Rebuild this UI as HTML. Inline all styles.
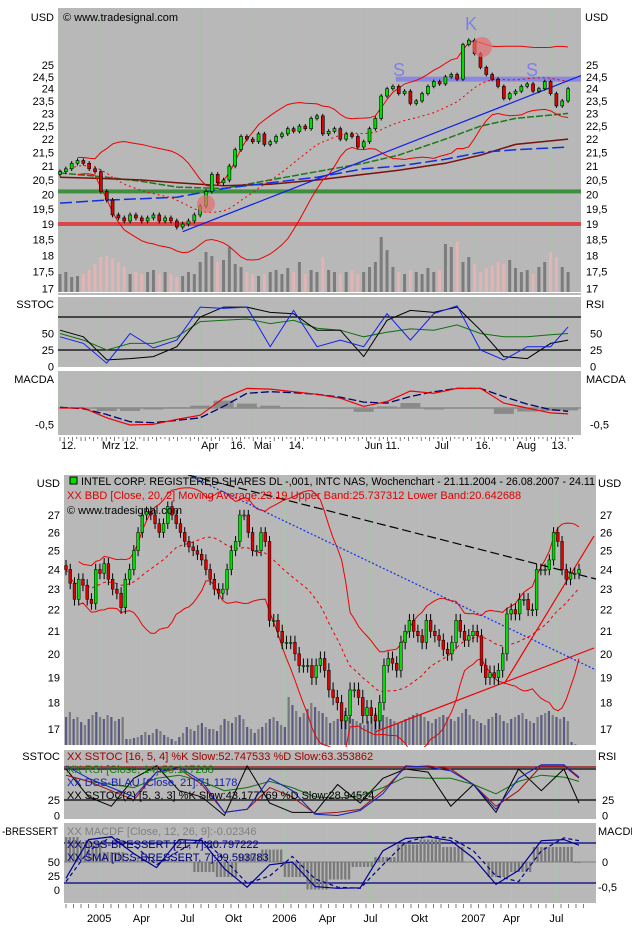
<!DOCTYPE html>
<html><head><meta charset="utf-8"><style>
html,body{margin:0;padding:0;background:#fff}
svg{display:block}
text{font-family:"Liberation Sans",sans-serif;font-size:11px}
</style></head><body>
<svg id="c" width="632" height="928" viewBox="0 0 632 928" xmlns="http://www.w3.org/2000/svg">
<defs>
<clipPath id="cpT"><rect x="58" y="8" width="523" height="285"/></clipPath>
<clipPath id="cpTS"><rect x="58" y="297" width="523" height="70"/></clipPath>
<clipPath id="cpTM"><rect x="58" y="371" width="523" height="64"/></clipPath>
<clipPath id="cpB"><rect x="64" y="475" width="532" height="272"/></clipPath>
<clipPath id="cpBS"><rect x="64" y="750" width="532" height="69"/></clipPath>
<clipPath id="cpBM"><rect x="64" y="823" width="532" height="80"/></clipPath>
</defs>
<g id="layer"></g>
</svg>
<script>
// ---------- TOP (daily) DATA ----------
const topClose=[20.8,20.9,21.1,21.2,21.1,20.9,20.8,20.1,19.8,19.3,
19.2,19.1,19.3,19.2,19.1,19.2,19.3,19.1,19.2,19.1,
18.9,19.0,19.1,19.3,19.6,20.1,20.7,20.4,20.5,21.0,
21.6,22.1,22.0,21.9,22.2,21.8,21.9,22.1,22.2,22.4,
22.3,22.5,22.4,22.8,22.9,22.2,22.3,22.4,22.0,22.2,
22.1,21.7,21.9,22.4,22.8,23.7,24.0,24.1,23.8,23.9,
23.4,23.5,23.8,24.1,24.3,24.2,24.5,24.6,24.4,25.9,
26.1,25.5,24.9,24.6,24.4,24.1,23.6,23.8,23.9,24.1,
24.2,23.9,24.0,24.3,23.8,23.3,23.5,24.0];
const topVolume=[18,20,15,16,18,22,28,35,36,34,30,25,18,20,18,20,22,18,20,18,15,16,20,18,30,40,36,30,32,45,28,25,20,18,16,18,20,22,18,24,20,30,18,22,20,35,22,20,18,20,22,18,20,25,30,55,42,25,20,18,22,20,18,24,20,22,48,45,50,30,35,28,20,24,26,30,28,32,24,20,22,18,25,30,40,35,25,20];
const topMaIdx=[0,8,14,20,28,36,44,52,58,66,72,78,87];
const topMaGreen=[20.75,20.6,20.45,20.25,20.2,20.5,20.8,21.1,21.4,22.0,22.5,22.8,23.0];
const topMaRed=[20.6,20.55,20.5,20.4,20.3,20.35,20.5,20.7,20.85,21.1,21.4,21.8,22.0];
const topMaBlue=[19.7,19.8,19.85,19.9,20.2,20.4,20.6,20.9,21.0,21.25,21.5,21.6,21.7];
const topPriceTicks=[25,24.5,24,23.5,23,22.5,22,21.5,21,20.5,20,19.5,19,18.5,18,17.5,17];
const topSampleIdx=[0,4,8,12,16,20,24,28,32,36,40,44,48,52,56,60,64,68,72,76,80,84,87];
const topStochBlue=[45,35,5,50,28,40,90,88,90,30,85,30,40,30,80,40,80,92,25,10,30,30,60];
const topStochBlack=[55,45,10,12,15,30,75,90,90,82,80,55,55,15,70,85,82,90,55,15,12,35,40];
const topRsiGreen=[50,40,25,35,35,45,68,70,72,65,70,58,55,45,52,57,55,63,50,45,45,48,50];
const topMacdRed=[0,0,-0.3,-0.52,-0.5,-0.35,-0.22,0.3,0.6,0.58,0.5,0.42,0.3,0.05,0.2,0.52,0.45,0.6,0.6,0.15,0,-0.15,-0.18];
const topMacdSig=[0.02,-0.02,-0.2,-0.42,-0.45,-0.38,-0.3,0.05,0.45,0.5,0.47,0.42,0.33,0.18,0.15,0.35,0.5,0.6,0.6,0.35,0.12,-0.05,-0.1];
const topDateLabels=["12.","Mrz 12.","Apr","16.","Mai","14.","Jun 11.","Jul","16.","Aug","13."];
const topDateIdx=[0,7,24,29,33,39,52,64,71,78,84];

// ---------- BOTTOM (weekly) DATA ----------
const botClose=[24,23.3,22.5,23.5,23.2,22.5,22.3,24,23.8,24.3,
23.5,23,22.8,22.1,23.5,24,25,26,27,27.2,
27,26.5,26,26.5,27.5,27,26.5,26,25.5,25.2,
25,24.8,24.5,24,23.5,23,22.8,23,24,25,
25.5,27,27,26,25,25,26,25.5,21.5,21.5,
21,20.5,20.5,20.5,20,19.5,19.5,19.5,19,19.5,
19.8,19.3,18.5,18.2,18,17.3,17.5,18.5,18.5,18.2,
17.5,17.8,17.5,17.3,18,19.5,19.8,19.6,19.3,20.5,
21,21.5,21,20.8,20.5,21.5,21,20.8,20.6,20.2,
20,20.5,21.5,21,20.6,20.8,21,20.8,19.5,19,
19.2,19,19.3,20,21.8,22,21.8,22.5,22.5,22,
22,24,24,24,24.5,26,25.5,24,23.5,23.8,
23.8,24];
const botVolume=[30,35,28,30,25,22,28,32,35,30,28,32,30,26,28,30,8,8,9,10,12,15,12,14,18,16,12,10,8,6,10,14,20,18,16,22,24,20,18,18,16,22,28,26,24,30,32,28,20,18,14,18,20,24,28,30,26,22,20,50,42,36,30,34,38,44,40,36,34,30,24,26,28,34,36,30,28,26,24,22,26,30,34,36,32,30,28,26,24,26,28,30,32,34,32,30,26,24,28,30,32,30,28,26,30,34,38,32,28,26,24,22,28,30,34,32,26,24,28,30,32,34,28,26,24,30,32,34,36,32,30,28,30,26,5,3,2];
const botPriceTicks=[27,26,25,24,23,22,21,20,19,18,17];
const botSampleIdx=[0,6,12,18,24,30,36,42,48,54,60,66,72,78,84,90,96,102,108,114,120,126,132,136];
const botSstocRed=[65,55,40,25,70,75,50,5,10,45,30,3,5,10,40,78,80,75,50,15,40,80,80,60];
const botDssBlue=[80,60,45,30,70,78,55,5,10,60,40,2,0,8,35,80,78,72,50,10,60,82,82,62];
const botRsiGreen=[65,55,50,45,60,65,55,40,45,55,45,30,28,32,45,62,60,60,50,35,55,65,62,55];
const botSstoc2Black=[75,30,15,60,80,40,30,0,80,20,5,5,50,20,60,75,70,15,50,5,75,40,75,20];
const botBressert=[21,90,95,65,40,90,88,38,5,45,50,6,3,4,70,92,95,88,57,10,35,88,90,80];
const botBressertSma=[15,70,95,80,45,70,92,55,12,25,60,20,5,3,45,85,96,93,70,25,15,70,93,88];
const botMacdf=[0.5,0.4,0.2,0.05,0.05,0.05,-0.2,-0.3,0.15,0.25,-0.3,-0.55,-0.35,-0.1,0.1,0.35,0.45,0.3,0,-0.3,-0.2,0.3,0.3,-0.02];
const botDateLabels=["2005","Apr","Jul","Okt","2006","Apr","Jul","Okt","2007","Apr","Jul"];
const botDateIdx=[8.8,20,32.2,44.4,57.9,69.3,80.7,93.7,108,118.1,130];

// ---------- helpers ----------
const NS="http://www.w3.org/2000/svg";
const layer=document.getElementById('layer');
function mk(tag,attrs,parent,txt){const e=document.createElementNS(NS,tag);for(const k in attrs)e.setAttribute(k,attrs[k]);if(txt!==undefined)e.textContent=txt;(parent||layer).appendChild(e);return e;}
function grp(clip){const g=document.createElementNS(NS,'g');if(clip)g.setAttribute('clip-path','url(#'+clip+')');layer.appendChild(g);return g;}
function bb(arr,period,k){const mid=[],up=[],lo=[];for(let i=0;i<arr.length;i++){const s=Math.max(0,i-period+1);const w=arr.slice(s,i+1);const m=w.reduce((a,b)=>a+b,0)/w.length;const sd=Math.sqrt(w.reduce((a,b)=>a+(b-m)*(b-m),0)/w.length);mid.push(m);up.push(m+k*sd);lo.push(m-k*sd);}return {mid,up,lo};}
function poly(xs,ys,style,parent,name){let d='';for(let i=0;i<xs.length;i++){if(isNaN(ys[i]))continue;d+=(d?'L':'M')+xs[i].toFixed(1)+' '+ys[i].toFixed(1);}const p=mk('path',Object.assign({d:d,fill:'none'},style),parent);


return p;}

// axis functions
const yT=p=>224-579*Math.log(p/19);
const xT=i=>60+i*5.84;
const yTS=v=>350-(v-25)*0.66;
const yTM=v=>408-v*32.6;
const yB=p=>729-462.6*Math.log(p/17);
const xB=i=>66+i*(513/(botClose.length-1));
const xBi=i=>66+i*(513/136);
const yBS=v=>800-(v-25)*0.62;
const yBM=v=>862-v*50;
const yBD=v=>890-v*0.56;

// ---------- panels ----------
const panels=[[58,8,523,287,'top-price-panel'],[58,297,523,70,'top-stoch-panel'],[58,371,523,64,'top-macd-panel'],[64,475,532,272,'bottom-price-panel'],[64,750,532,69,'bottom-stoch-panel'],[64,823,532,80,'bottom-bressert-panel']];
panels.forEach(p=>{const r=mk('rect',{x:p[0],y:p[1],width:p[2],height:p[3],fill:'#b8b8b8'});

});

// vertical grid
topDateIdx.forEach(i=>{[[8,295],[297,367],[371,435]].forEach(r=>mk('line',{x1:xT(i),x2:xT(i),y1:r[0],y2:r[1],stroke:'#a8c0a8','stroke-width':1}));});
botDateIdx.forEach(i=>{[[475,747],[750,819],[823,903]].forEach(r=>mk('line',{x1:xBi(i),x2:xBi(i),y1:r[0],y2:r[1],stroke:'#a8c8a8','stroke-width':1}));});

// ---------- TOP PRICE ----------
const gT=grp('cpT');
topVolume.forEach((v,i)=>{const up=i>0?topClose[i]>=topClose[i-1]:true;const r=mk('rect',{x:xT(i)-1.5,y:292-v,width:3,height:v,fill:up?'#7c7c7c':'#e4b4b4'},gT);

});
mk('rect',{x:58,y:292,width:523,height:3,fill:'#fff'},gT);
let l=mk('rect',{x:58,y:yT(20.1)-2,width:523,height:4,fill:'#3f8f3f'},gT);
l=mk('rect',{x:58,y:yT(19)-2,width:523,height:4,fill:'#d84848'},gT);
l=mk('rect',{x:xT(57.5),y:yT(24.4)-2.5,width:581-xT(57.5),height:5,fill:'#8888e0'},gT);
const tx=topMaIdx.map(xT);
poly(tx,topMaGreen.map(yT),{stroke:'#1a7a1a','stroke-width':1.5,'stroke-dasharray':'7,2'},gT,'ma-green');
poly(tx,topMaRed.map(yT),{stroke:'#7a1010','stroke-width':1.5},gT,'ma-darkred');
poly(tx,topMaBlue.map(yT),{stroke:'#1030e0','stroke-width':1.5,'stroke-dasharray':'12,4'},gT,'ma-blue');
const tb=bb(topClose,20,2);const txs=topClose.map((c,i)=>xT(i));
const cut=a=>a.map((v,i)=>i<3?NaN:v);
poly(txs,cut(tb.up).map(yT),{stroke:'#ee0000','stroke-width':1},gT,'top-upper-band');
poly(txs,cut(tb.lo).map(yT),{stroke:'#ee0000','stroke-width':1},gT,'top-lower-band');
poly(txs,tb.mid.map(yT),{stroke:'#ee0000','stroke-width':1,'stroke-dasharray':'2,3'},gT,'top-band-mid');
l=mk('line',{x1:xT(21),y1:yT(18.75),x2:581,y2:yT(24.55),stroke:'#1020e8','stroke-width':1.2},gT);
topClose.forEach((c,i)=>{const o=i>0?topClose[i-1]:20.7;const hi=Math.max(o,c)+0.08,lo=Math.min(o,c)-0.08;const x=xT(i);
mk('line',{x1:x,x2:x,y1:yT(hi),y2:yT(lo),stroke:'#000','stroke-width':1},gT);
const r=mk('rect',{x:x-1.5,y:yT(Math.max(o,c)),width:3,height:Math.max(1,yT(Math.min(o,c))-yT(Math.max(o,c))),fill:c>=o?'#00e000':'#e00000',stroke:'#000','stroke-width':0.6},gT);

});
l=mk('circle',{cx:206,cy:204,r:9,fill:'rgba(230,110,110,0.7)'},gT);
l=mk('circle',{cx:482,cy:47,r:10,fill:'rgba(230,110,110,0.7)'},gT);
[['S',393,76,'left-shoulder-label'],['K',465,30,'head-label'],['S',526,76,'right-shoulder-label']].forEach(s=>{const t=mk('text',{x:s[1],y:s[2],fill:'#8080e8',style:'font-size:18px'},gT,s[0]);});
let t=mk('text',{x:63,y:21},null,'© www.tradesignal.com');

// ---------- TOP STOCH ----------
const gTS=grp('cpTS');
[75,25].forEach(v=>mk('line',{x1:58,x2:581,y1:yTS(v),y2:yTS(v),stroke:'#000','stroke-width':1.2},gTS));
const sx=topSampleIdx.map(xT);
poly(sx,topRsiGreen.map(yTS),{stroke:'#107010','stroke-width':1},gTS,'top-rsi-line');
poly(sx,topStochBlack.map(yTS),{stroke:'#000','stroke-width':1},gTS,'top-stoch-slow');
poly(sx,topStochBlue.map(yTS),{stroke:'#1020f0','stroke-width':1},gTS,'top-stoch-fast');
// ---------- TOP MACD ----------
const gTM=grp('cpTM');
mk('line',{x1:58,x2:581,y1:yTM(0),y2:yTM(0),stroke:'#707070','stroke-width':1},gTM);
topMacdRed.forEach((v,k)=>{const h=(v-topMacdSig[k])*0.9;const x=sx[k];const r=mk('rect',{x:x-10,y:Math.min(yTM(0),yTM(h)),width:20,height:Math.abs(yTM(h)-yTM(0)),fill:'#8a8a8a'},gTM);

});
poly(sx,topMacdSig.map(yTM),{stroke:'#000070','stroke-width':1.3,'stroke-dasharray':'8,3'},gTM,'top-macd-signal');
poly(sx,topMacdRed.map(yTM),{stroke:'#f00000','stroke-width':1.2},gTM,'top-macd-line');

// ---------- BOTTOM PRICE ----------
const gB=grp('cpB');
botVolume.forEach((v,i)=>{const x=66+i*(513/(botVolume.length-1));const r=mk('rect',{x:x-1,y:747-v,width:2.2,height:v,fill:i%2?'#7a7a7a':'#5a5a88'},gB);

});
mk('rect',{x:64,y:745,width:532,height:3,fill:'#fff'},gB);
const bbB=bb(botClose,20,2);const bxs=botClose.map((c,i)=>xB(i));
poly(bxs,cut(bbB.up).map(yB),{stroke:'#ee0000','stroke-width':1},gB,'bottom-upper-band');
poly(bxs,cut(bbB.lo).map(yB),{stroke:'#ee0000','stroke-width':1},gB,'bottom-lower-band');
poly(bxs,bbB.mid.map(yB),{stroke:'#ee0000','stroke-width':1,'stroke-dasharray':'3,3'},gB,'bottom-band-mid');
l=mk('line',{x1:188,y1:475,x2:596,y2:579,stroke:'#000','stroke-width':1.2,'stroke-dasharray':'9,4'},gB);
l=mk('line',{x1:188,y1:475,x2:596,y2:670,stroke:'#1030f0','stroke-width':1.2,'stroke-dasharray':'2,2'},gB);
l=mk('line',{x1:375,y1:732,x2:594,y2:648,stroke:'#f00000','stroke-width':1.2},gB);
l=mk('line',{x1:504,y1:684,x2:594,y2:536,stroke:'#f00000','stroke-width':1.2},gB);
botClose.forEach((c,i)=>{const o=i>0?botClose[i-1]:24.2;const hi=Math.max(o,c)+0.3,lo=Math.min(o,c)-0.3;const x=xB(i);
mk('line',{x1:x,x2:x,y1:yB(hi),y2:yB(lo),stroke:'#000','stroke-width':1},gB);
const r=mk('rect',{x:x-1.4,y:yB(Math.max(o,c)),width:2.8,height:Math.max(1,yB(Math.min(o,c))-yB(Math.max(o,c))),fill:c>=o?'#00e000':'#e00000',stroke:'#000','stroke-width':0.5},gB);

});
l=mk('rect',{x:70,y:477,width:7,height:7,fill:'#00e000',stroke:'#000','stroke-width':1});
t=mk('text',{x:81,y:485,textLength:514,lengthAdjust:'spacingAndGlyphs'},null,'INTEL CORP. REGISTERED SHARES DL -,001, INTC NAS, Wochenchart - 21.11.2004 - 26.08.2007 - 24.11');
t=mk('text',{x:67,y:499,fill:'#e00000'},null,'XX BBD [Close, 20, 2] Moving Average:23.19 Upper Band:25.737312 Lower Band:20.642688');
t=mk('text',{x:67,y:514},null,'© www.tradesignal.com');

// ---------- BOTTOM STOCH ----------
const gBS=grp('cpBS');
mk('line',{x1:64,x2:596,y1:767,y2:767,stroke:'#900000','stroke-width':1.3},gBS);
mk('line',{x1:64,x2:596,y1:769,y2:769,stroke:'#000','stroke-width':1.3},gBS);
mk('line',{x1:64,x2:596,y1:yBS(25),y2:yBS(25),stroke:'#000','stroke-width':1.3},gBS);
const bsx=botSampleIdx.map(xBi);
poly(bsx,botRsiGreen.map(yBS),{stroke:'#107010','stroke-width':1},gBS,'bottom-rsi-line');
poly(bsx,botSstoc2Black.map(yBS),{stroke:'#000','stroke-width':1},gBS,'bottom-sstoc2-line');
poly(bsx,botSstocRed.map(yBS),{stroke:'#a01010','stroke-width':1},gBS,'bottom-sstoc-line');
poly(bsx,botDssBlue.map(yBS),{stroke:'#1020c0','stroke-width':1},gBS,'bottom-dss-line');
[['XX SSTOC [16, 5, 4] %K Slow:52.747533 %D Slow:63.353862','#a00000',760,'sstoc-legend'],['XX RSI [Close, 14]:58.127288','#108010',773,'rsi-legend'],['XX DSS-BLAU [Close, 21]:71.1178','#1020c0',786,'dss-legend'],['XX SSTOC(2) [5, 3, 3] %K Slow:43.177769 %D Slow:28.94524','#000',799,'sstoc2-legend']].forEach(a=>{const e=mk('text',{x:67,y:a[2],fill:a[1]},null,a[0]);});

// ---------- BOTTOM BRESSERT ----------
const gBM=grp('cpBM');
mk('line',{x1:64,x2:596,y1:862,y2:862,stroke:'#808080','stroke-width':1},gBM);
mk('line',{x1:64,x2:596,y1:843,y2:843,stroke:'#000080','stroke-width':1.3},gBM);
mk('line',{x1:64,x2:596,y1:883,y2:883,stroke:'#000080','stroke-width':1.3},gBM);
for(let w=0;w<=136;w++){let k=0;for(let j=0;j<botSampleIdx.length;j++){if(Math.abs(botSampleIdx[j]-w)<Math.abs(botSampleIdx[k]-w))k=j;}const v=botMacdf[k];const x=xBi(w);
const r=mk('rect',{x:x-1,y:Math.min(yBM(0),yBM(v)),width:2.3,height:Math.abs(yBM(v)-yBM(0)),fill:'#7a7a7a'},gBM);

}
poly(bsx,botBressertSma.map(yBD),{stroke:'#000090','stroke-width':1.2,'stroke-dasharray':'4,3'},gBM,'bressert-sma');
poly(bsx,botBressert.map(yBD),{stroke:'#000090','stroke-width':1.2},gBM,'bressert-line');
[['XX MACDF [Close, 12, 26, 9]:-0.02346','#808080',835,'macdf-legend'],['XX DSS-BRESSERT [21, 7]:80.797222','#000080',848,'bressert-legend'],['XX SMA [DSS-BRESSERT, 7]:89.593783','#000080',861,'sma-legend']].forEach(a=>{const e=mk('text',{x:67,y:a[2],fill:a[1]},null,a[0]);});

// ---------- AXIS LABELS ----------
function lab(x,y,s,anchor,name){const e=mk('text',{x:x,y:y,'text-anchor':anchor||'start'},null,s);return e;}
const fmt=v=>String(v).replace('.',',');
topPriceTicks.forEach(p=>{lab(54,yT(p)+4,fmt(p),'end','top-left-tick');lab(586,yT(p)+4,fmt(p),'start','top-right-tick');});
lab(54,21,'USD','end','top-left-unit');lab(585,21,'USD','start','top-right-unit');
lab(54,308,'SSTOC','end','top-stoch-label');lab(586,308,'RSI','start','top-rsi-label');
[50,25,0].forEach(v=>{lab(54,yTS(v)+4,String(v),'end','top-stoch-tick');lab(590,yTS(v)+4,String(v),'start','top-rsi-tick');});
lab(54,383,'MACDA','end','top-macd-label');lab(586,383,'MACDA','start','top-macd-label-right');
lab(54,yTM(-0.5)+4,'-0,5','end','top-macd-tick');lab(590,yTM(-0.5)+4,'-0,5','start','top-macd-tick-right');
topDateLabels.forEach((s,k)=>lab(xT(topDateIdx[k])+1,449,s,'start','top-date-label'));
for(let x=60;x<575;x+=4.2)mk('line',{x1:x,x2:x,y1:437,y2:x%3<1.5?441:439,stroke:'#444','stroke-width':0.7});
botPriceTicks.forEach(p=>{lab(60,yB(p)+4,String(p),'end','bottom-left-tick');lab(600,yB(p)+4,String(p),'start','bottom-right-tick');});
lab(60,487,'USD','end','bottom-left-unit');lab(598,487,'USD','start','bottom-right-unit');
lab(60,760,'SSTOC','end','bottom-stoch-label');lab(598,760,'RSI','start','bottom-rsi-label');
[25,0].forEach(v=>{lab(60,yBS(v)+4,String(v),'end','bottom-stoch-tick');lab(602,yBS(v)+4,String(v),'start','bottom-rsi-tick');});
t=mk('text',{x:2,y:835,textLength:56,lengthAdjust:'spacingAndGlyphs'},null,'-BRESSERT');
lab(598,835,'MACDF','start','bottom-macdf-label');
[50,25,0].forEach(v=>lab(60,yBD(v)+4,String(v),'end','bottom-bressert-tick'));
lab(602,866,'0','start','bottom-macdf-tick');lab(598,891,'-0,5','start','bottom-macdf-tick');
botDateLabels.forEach((s,k)=>lab(xBi(botDateIdx[k]),922,s,'middle','bottom-date-label'));
for(let x=66;x<590;x+=7.5)mk('line',{x1:x,x2:x,y1:904,y2:908,stroke:'#444','stroke-width':0.7});
</script>
</body></html>
